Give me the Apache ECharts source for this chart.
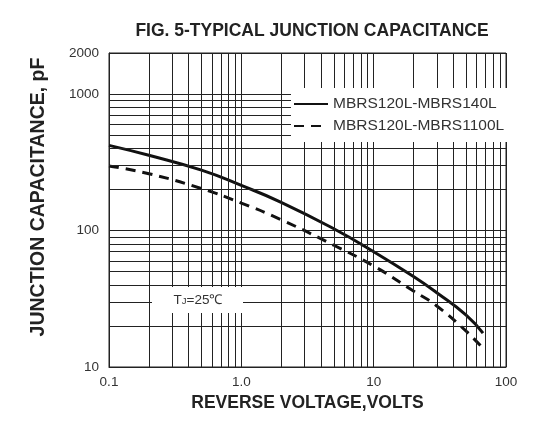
<!DOCTYPE html>
<html>
<head>
<meta charset="utf-8">
<script src="https://cdn.jsdelivr.net/npm/echarts@6/dist/echarts.min.js"></script>
<style>
html,body{margin:0;padding:0;background:#fff;}
#chart{width:560px;height:442px;}
</style>
</head>
<body>
<div id="chart"></div>
<script>
// ---- data (log-log) ----
var seriesNames = ['MBRS120L-MBRS140L', 'MBRS120L-MBRS1100L'];

var voltsA = [0.1, 0.2, 0.5, 1, 2, 5, 10, 20, 30, 50, 67];
var capA   = [421, 356, 277, 214, 161, 103, 70, 46, 35, 24, 17.7];

var voltsB = [0.1, 0.2, 0.5, 1, 2, 5, 10, 20, 30, 50, 66];
var capB   = [297, 261, 203, 159, 120, 78, 55, 36, 28, 18.3, 13.9];

var xTicks = [0.1, 1, 10, 100];
var xTickLabels = ['0.1', '1.0', '10', '100'];
var yTicks = [10, 100, 1000, 2000];
var yTickLabels = ['10', '100', '1000', '2000'];

var xMinorGrid = [0.2,0.3,0.4,0.5,0.6,0.7,0.8,0.9, 2,3,4,5,6,7,8,9, 20,30,40,50,60,70,80,90];
var yMinorGrid = [20,30,40,50,60,70,80,90, 200,300,400,500,600,700,800,900];

var titleText = 'FIG. 5-TYPICAL JUNCTION CAPACITANCE';
var xTitle = 'REVERSE VOLTAGE,VOLTS';
var yTitle = 'JUNCTION CAPACITANCE, pF';

// ---- build ----
function pairs(xs, ys) { return xs.map(function (x, i) { return [x, ys[i]]; }); }
function nearestLabel(v, ticks, labels) {
  var best = 0, bd = Infinity;
  for (var i = 0; i < ticks.length; i++) {
    var d = Math.abs(Math.log(v) - Math.log(ticks[i]));
    if (d < bd) { bd = d; best = i; }
  }
  return bd < 0.01 ? labels[best] : '';
}

var FONT = '"Liberation Sans", Arial, sans-serif';
var GRID = '#222';

var chart = echarts.init(document.getElementById('chart'), null, {renderer: 'canvas'});

var gridLines = [];
xMinorGrid.forEach(function (v) { gridLines.push({xAxis: v}); });
yMinorGrid.forEach(function (v) { gridLines.push({yAxis: v}); });

chart.setOption({
  animation: false,
  backgroundColor: '#fff',
  grid: {left: 109, right: 54, top: 53, bottom: 75, show: true, borderColor: GRID, borderWidth: 1, backgroundColor: 'transparent'},
  xAxis: {
    type: 'log', logBase: 10, min: 0.1, max: 100,
    name: xTitle, nameLocation: 'middle', nameGap: 25,
    nameTextStyle: {fontFamily: FONT, fontWeight: 'bold', fontSize: 17.5, color: '#222'},
    axisLine: {show: true, lineStyle: {color: GRID, width: 1}},
    axisTick: {show: false},
    axisLabel: {fontFamily: FONT, fontSize: 13.5, color: '#333', margin: 8,
      formatter: function (v) { return nearestLabel(v, xTicks, xTickLabels); }},
    splitLine: {show: true, lineStyle: {color: GRID, width: 1}},
    minorTick: {show: false}, minorSplitLine: {show: false}
  },
  yAxis: {
    type: 'log', logBase: 10, min: 10, max: 2000,
    axisLine: {show: true, lineStyle: {color: GRID, width: 1}},
    axisTick: {show: false},
    axisLabel: {fontFamily: FONT, fontSize: 13.5, color: '#333', margin: 10,
      formatter: function (v) { return nearestLabel(v, yTicks, yTickLabels); }},
    splitLine: {show: true, lineStyle: {color: GRID, width: 1}}
  },
  legend: {
    data: seriesNames,
    orient: 'vertical', left: 291, top: 88,
    itemWidth: 34, itemHeight: 14, itemGap: 6,
    backgroundColor: '#fff', padding: [8, 4, 8, 2],
    itemStyle: {opacity: 0},
    textStyle: {fontFamily: FONT, fontSize: 15.5, lineHeight: 16, color: '#333'},
    selectedMode: false, z: 10
  },
  series: [
    {
      name: 'minor-grid', type: 'line', data: [], silent: true, z: 1,
      markLine: {
        silent: true, symbol: ['none', 'none'], animation: false,
        label: {show: false},
        lineStyle: {color: GRID, width: 1, type: 'solid'},
        emphasis: {disabled: true},
        data: gridLines
      }
    },
    {
      name: seriesNames[0], type: 'line', data: pairs(voltsA, capA),
      symbol: 'none', showSymbol: false, smooth: true, z: 3,
      lineStyle: {color: '#111', width: 3, type: 'solid'},
      itemStyle: {color: '#111'}
    },
    {
      name: seriesNames[1], type: 'line', data: pairs(voltsB, capB),
      symbol: 'none', showSymbol: false, smooth: true, z: 3,
      lineStyle: {color: '#111', width: 3, type: [10, 7]},
      itemStyle: {color: '#111'}
    }
  ],
  graphic: [
    {
      type: 'text', z: 100, x: 312, y: 31,
      style: {text: titleText, font: 'bold 17.5px ' + FONT, fill: '#222',
        textAlign: 'center', textVerticalAlign: 'middle', align: 'center', verticalAlign: 'middle'}
    },
    {
      type: 'text', z: 100, x: 39, y: 197, rotation: Math.PI / 2,
      style: {text: yTitle, font: 'bold 19.5px ' + FONT, fill: '#222',
        textAlign: 'center', textVerticalAlign: 'middle', align: 'center', verticalAlign: 'middle'}
    },
    {
      type: 'rect', z: 100, shape: {x: 152, y: 287, width: 91, height: 26},
      style: {fill: '#fff'}
    },
    {
      type: 'text', z: 101, x: 198, y: 300,
      style: {
        text: '{a|T}{b|J}{a|=25℃}',
        textAlign: 'center', textVerticalAlign: 'middle', align: 'center', verticalAlign: 'middle',
        rich: {
          a: {fontFamily: FONT, fontSize: 13.5, fill: '#333', color: '#333'},
          b: {fontFamily: FONT, fontSize: 9.5, fill: '#333', color: '#333', padding: [3, 0, 0, 0]}
        }
      }
    }
  ]
});
</script>
</body>
</html>
